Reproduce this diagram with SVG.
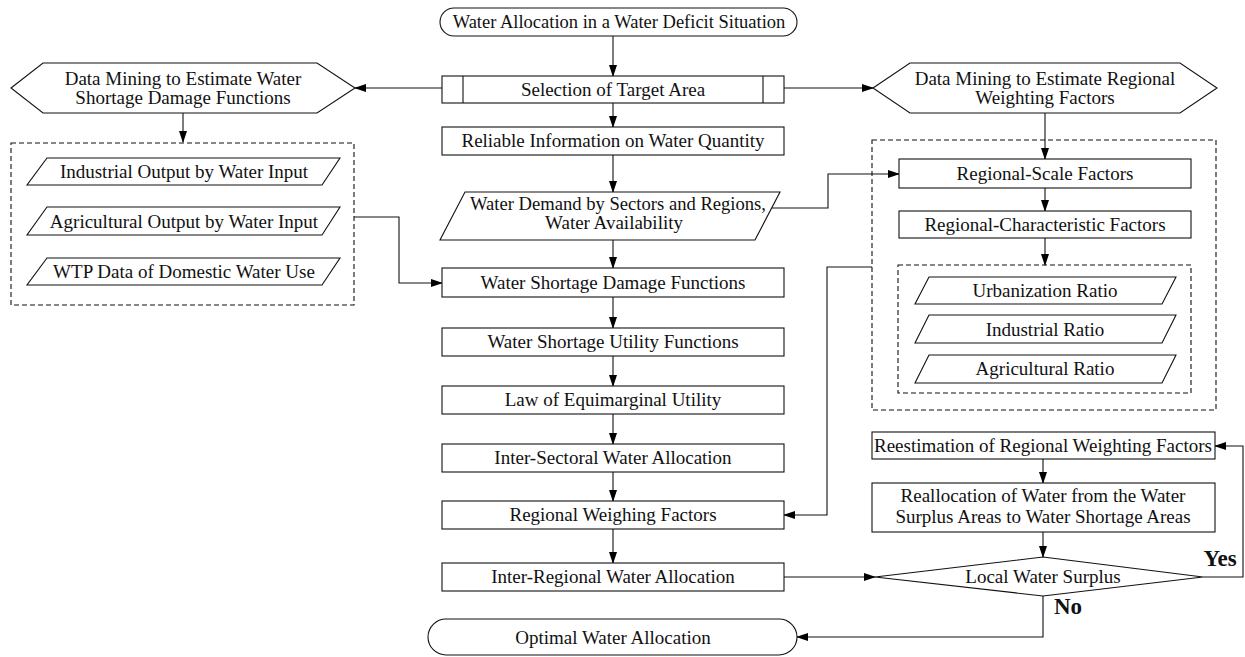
<svg xmlns="http://www.w3.org/2000/svg" width="1245" height="657" viewBox="0 0 1245 657">
<defs>
<marker id="ah" markerWidth="12" markerHeight="8" refX="11" refY="4" orient="auto" markerUnits="userSpaceOnUse">
<path d="M0,0 L12,4 L0,8 Z" fill="#000"/>
</marker>
<style>
.s{fill:#fff;stroke:#111;stroke-width:1.1}
.d{fill:none;stroke:#111;stroke-width:1.1;stroke-dasharray:5,3}
.c{fill:none;stroke:#111;stroke-width:1.1;marker-end:url(#ah)}
text{font-family:"Liberation Serif","Times New Roman",serif;font-size:19px;fill:#111;text-anchor:middle}
.t{font-size:18.5px}
.b{font-weight:bold;font-size:23px}
</style>
</defs>
<rect width="1245" height="657" fill="#fff"/>

<g id="connectors">
<path class="c" d="M613,36 V76"/>
<path class="c" d="M613,103 V127"/>
<path class="c" d="M613,155 V192"/>
<path class="c" d="M613,240 V268"/>
<path class="c" d="M613,297 V328"/>
<path class="c" d="M613,356 V386"/>
<path class="c" d="M613,414 V444"/>
<path class="c" d="M613,472 V501"/>
<path class="c" d="M613,529 V563"/>
<path class="c" d="M442,88 H355"/>
<path class="c" d="M784,88 H873"/>
<path class="c" d="M183,113 V142"/>
<path class="c" d="M1045,113 V159"/>
<path class="c" d="M1045,188 V211"/>
<path class="c" d="M1045,238 V265"/>
<path class="c" d="M354,217 H399 V283 H442"/>
<path class="c" d="M769,208 H828 V174 H899"/>
<path class="c" d="M872,267 H827 V515 H784"/>
<path class="c" d="M784,577 H875"/>
<path class="c" d="M1043,459 V483"/>
<path class="c" d="M1043,532 V557"/>
<path class="c" d="M1203,577 H1243 V446 H1215"/>
<path class="c" d="M1043,596 V637 H797"/>
</g>

<g id="start">
<rect class="s" x="440" y="8" width="357" height="28" rx="14"/>
<text class="t" x="619" y="28">Water Allocation in a Water Deficit Situation</text>
</g>
<g id="selection">
<rect class="s" x="442" y="76" width="342" height="27"/>
<path class="s" d="M463,76 V103 M763,76 V103"/>
<text x="613" y="96">Selection of Target Area</text>
</g>
<g id="reliable">
<rect class="s" x="442" y="127" width="342" height="28"/>
<text x="613" y="147">Reliable Information on Water Quantity</text>
</g>
<g id="demand">
<polygon class="s" points="465,192 780,192 755,240 440,240"/>
<text x="618" y="210" textLength="296" lengthAdjust="spacingAndGlyphs">Water Demand by Sectors and Regions,</text>
<text x="614" y="229">Water Availability</text>
</g>
<g id="damage">
<rect class="s" x="442" y="268" width="342" height="29"/>
<text x="613" y="289">Water Shortage Damage Functions</text>
</g>
<g id="utility">
<rect class="s" x="442" y="328" width="342" height="28"/>
<text x="613" y="348">Water Shortage Utility Functions</text>
</g>
<g id="law">
<rect class="s" x="442" y="386" width="342" height="28"/>
<text x="613" y="406">Law of Equimarginal Utility</text>
</g>
<g id="intersectoral">
<rect class="s" x="442" y="444" width="342" height="28"/>
<text x="613" y="464">Inter-Sectoral Water Allocation</text>
</g>
<g id="weighing">
<rect class="s" x="442" y="501" width="342" height="28"/>
<text x="613" y="521">Regional Weighing Factors</text>
</g>
<g id="interregional">
<rect class="s" x="442" y="563" width="342" height="28"/>
<text x="613" y="583">Inter-Regional Water Allocation</text>
</g>
<g id="end">
<rect class="s" x="428" y="619" width="369" height="36" rx="18"/>
<text x="613" y="644">Optimal Water Allocation</text>
</g>

<g id="dm-left">
<polygon class="s" points="11,88 43,63 317,63 355,88 317,113 43,113"/>
<text x="183" y="85">Data Mining to Estimate Water</text>
<text x="183" y="104">Shortage Damage Functions</text>
</g>
<g id="left-group">
<rect class="d" x="11" y="143" width="343" height="162"/>
</g>
<g id="industrial-output">
<polygon class="s" points="47,158 340,158 322,185 27,185"/>
<text x="184" y="178">Industrial Output by Water Input</text>
</g>
<g id="agri-output">
<polygon class="s" points="47,207 340,207 322,235 27,235"/>
<text x="184" y="228">Agricultural Output by Water Input</text>
</g>
<g id="wtp">
<polygon class="s" points="47,258 340,258 322,285 27,285"/>
<text x="184" y="278">WTP Data of Domestic Water Use</text>
</g>

<g id="dm-right">
<polygon class="s" points="873,88 910,63 1180,63 1217,88 1180,113 910,113"/>
<text x="1045" y="85">Data Mining to Estimate Regional</text>
<text x="1045" y="104">Weighting Factors</text>
</g>
<g id="right-group">
<rect class="d" x="872" y="140" width="344" height="270"/>
</g>
<g id="scale">
<rect class="s" x="899" y="159" width="292" height="29"/>
<text x="1045" y="180">Regional-Scale Factors</text>
</g>
<g id="characteristic">
<rect class="s" x="899" y="211" width="292" height="27"/>
<text x="1045" y="231">Regional-Characteristic Factors</text>
</g>
<g id="ratio-group">
<rect class="d" x="898" y="265" width="293" height="128"/>
</g>
<g id="urban">
<polygon class="s" points="929,277 1176,277 1162,304 915,304"/>
<text x="1045" y="297">Urbanization Ratio</text>
</g>
<g id="ind-ratio">
<polygon class="s" points="929,315 1176,315 1162,343 915,343"/>
<text x="1045" y="336">Industrial Ratio</text>
</g>
<g id="agri-ratio">
<polygon class="s" points="929,355 1176,355 1162,383 915,383"/>
<text x="1045" y="375">Agricultural Ratio</text>
</g>

<g id="reestimation">
<rect class="s" x="872" y="432" width="343" height="27"/>
<text x="1043" y="452">Reestimation of Regional Weighting Factors</text>
</g>
<g id="reallocation">
<rect class="s" x="872" y="483" width="343" height="49"/>
<text x="1043" y="502">Reallocation of Water from the Water</text>
<text x="1043" y="523">Surplus Areas to Water Shortage Areas</text>
</g>
<g id="surplus">
<polygon class="s" points="875,577 1043,557 1203,577 1043,596"/>
<text x="1043" y="583">Local Water Surplus</text>
</g>
<text class="b" x="1220" y="566">Yes</text>
<text class="b" x="1068" y="614">No</text>
</svg>
